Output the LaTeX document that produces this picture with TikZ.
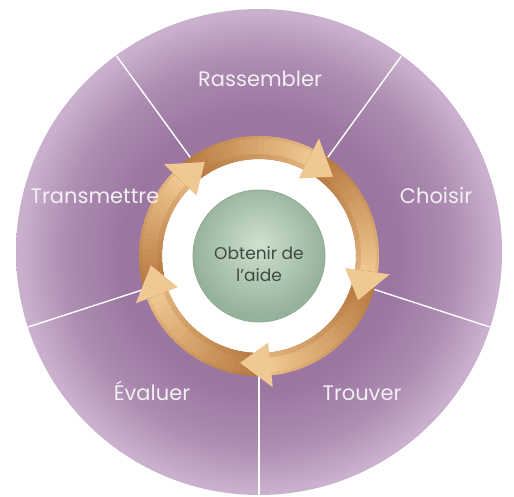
\documentclass[tikz,border=0pt]{standalone}
\usepackage{fontspec}
\setmainfont{Poppins}
\usetikzlibrary{calc}
\definecolor{plight}{HTML}{C9B0CC}
\definecolor{pmid}{HTML}{AD8DB1}
\definecolor{pdark}{HTML}{9A76A0}
\definecolor{gcen}{HTML}{CFE0CF}
\definecolor{gmid}{HTML}{B4CBB5}
\definecolor{gedge}{HTML}{97B29B}
\definecolor{gborder}{HTML}{8DA992}
\definecolor{odark}{HTML}{B3743A}
\definecolor{olight}{HTML}{EEC68F}
\definecolor{ohead}{HTML}{EFC893}
\definecolor{labtext}{HTML}{F4EEF5}
\definecolor{ctext}{HTML}{3E4B42}
\pgfdeclareradialshading{diskshade}{\pgfpoint{0bp}{0bp}}{color(0bp)=(pdark); color(14bp)=(pdark); color(20bp)=(pmid); color(24.5bp)=(plight); color(25bp)=(plight); color(50bp)=(plight)}
\pgfdeclareradialshading{greenshade}{\pgfpoint{0bp}{5bp}}{color(0bp)=(gcen); color(12bp)=(gmid); color(25bp)=(gedge); color(50bp)=(gedge)}
\tikzset{
  divider/.style={draw=white, line width=1.4pt},
  lab/.style={text=labtext, font=\fontsize{21}{24}\selectfont, anchor=base, inner sep=0pt},
  ctr/.style={text=ctext, font=\fontsize{17}{22}\selectfont, align=center, inner sep=0pt},
  headfill/.style={fill=ohead}
}
\begin{document}
\begin{tikzpicture}[x=1pt,y=1pt]
\useasboundingbox (0,0) rectangle (514,496);
\coordinate (B) at (259,244);
\coordinate (C) at (259,240);
% big disk
\shade[shading=diskshade] (B) circle (243);
% dividers
\foreach \a in {54,126,198,270,342}{
  \coordinate (d1) at ($(B)+(\a:110)$);
  \coordinate (d2) at ($(B)+(\a:242.5)$);
  \draw[divider] (d1) -- (d2);
}
% white inner disk
\fill[white] (C) circle (97);
% arrow bodies, shaded from tail (dark) to head (light)
\foreach \p/\t in {260/185,185/120,120/47,47/-24,-24/-100}{
  \pgfmathsetmacro\s{\p+16}
  \pgfmathsetmacro\e{\t+16}
  \foreach \k in {0,...,23}{
    \pgfmathsetmacro\aa{\s+(\e-\s)*\k/24}
    \pgfmathsetmacro\bb{\s+(\e-\s)*(\k+1.4)/24}
    \pgfmathtruncatemacro\pc{100*\k/23}
    \fill[olight!\pc!odark] ($(C)+(\aa:120)$) arc[start angle=\aa, end angle=\bb, radius=120]
      -- ($(C)+(\bb:97)$) arc[start angle=\bb, end angle=\aa, radius=97] -- cycle;
  }
}
% soft shadow on the inner and outer edge of the band
\draw[odark, opacity=0.25, line width=5pt] (C) circle (99.5);
\draw[odark, opacity=0.15, line width=3pt] (C) circle (118.5);
% arrow heads
\foreach \t in {185,120,47,-24,-100}{
  \pgfmathsetmacro\b{\t+16}
  \fill[headfill] ($(C)+(\b:132)$) -- ($(C)+(\t:108.5)$) -- ($(C)+(\b:87)$) -- cycle;
}
% centre
\shade[shading=greenshade] (C) circle (66);
\draw[gborder, line width=0.8pt] (C) circle (66);
\node[ctr] (aide) at (259,231.5) {Obtenir de\\l’aide};
% labels
\node[lab] (ras) at (260,409.5) {Rassembler};
\node[lab] (cho) at (436,292) {Choisir};
\node[lab] (tra) at (95,292) {Transmettre};
\node[lab] (eva) at (152,96) {Évaluer};
\node[lab] (tro) at (362,96) {Trouver};
\end{tikzpicture}
\end{document}
